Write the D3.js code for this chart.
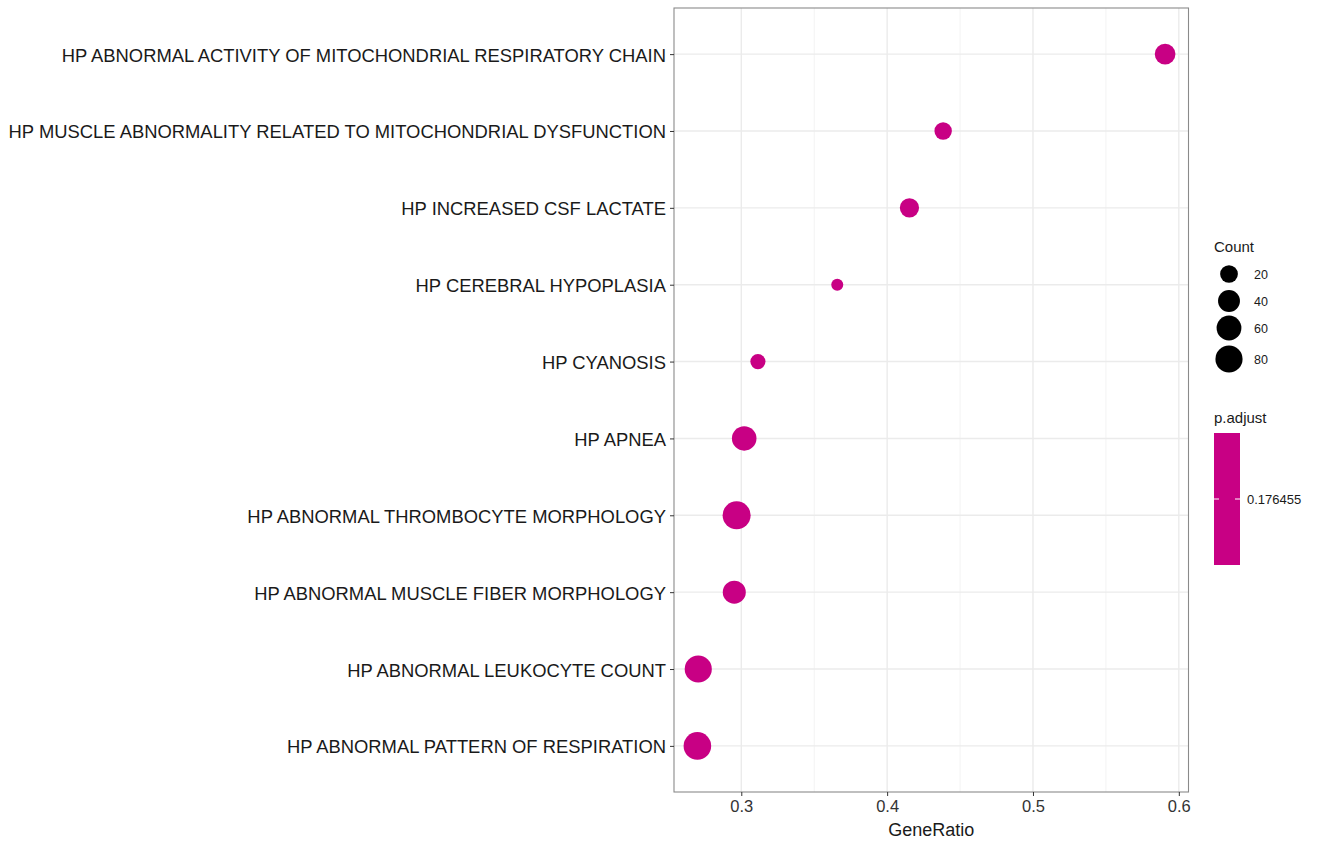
<!DOCTYPE html>
<html>
<head>
<meta charset="utf-8">
<script src="https://cdn.jsdelivr.net/npm/d3@7"></script>
<style>
  html, body { margin: 0; padding: 0; background: #ffffff; }
  svg { display: block; font-family: "Liberation Sans", Arial, Helvetica, sans-serif; }
</style>
</head>
<body>
<svg id="chart" width="1319" height="841"></svg>
<script>
// ---- data ----
const categories = [
  "HP ABNORMAL ACTIVITY OF MITOCHONDRIAL RESPIRATORY CHAIN",
  "HP MUSCLE ABNORMALITY RELATED TO MITOCHONDRIAL DYSFUNCTION",
  "HP INCREASED CSF LACTATE",
  "HP CEREBRAL HYPOPLASIA",
  "HP CYANOSIS",
  "HP APNEA",
  "HP ABNORMAL THROMBOCYTE MORPHOLOGY",
  "HP ABNORMAL MUSCLE FIBER MORPHOLOGY",
  "HP ABNORMAL LEUKOCYTE COUNT",
  "HP ABNORMAL PATTERN OF RESPIRATION"
];
const geneRatio = [0.5906, 0.4384, 0.4153, 0.3658, 0.3114, 0.3020, 0.2968, 0.2952, 0.2705, 0.2699];
const counts    = [33, 19, 26, 10, 13, 58, 88, 47, 80, 84];
const pAdjust   = [0.176455, 0.176455, 0.176455, 0.176455, 0.176455, 0.176455, 0.176455, 0.176455, 0.176455, 0.176455];
const xTicks = [0.3, 0.4, 0.5, 0.6];
const xMinorTicks = [0.25, 0.35, 0.45, 0.55];
const sizeBreaks = [20, 40, 60, 80];
const colorBreaks = [0.176455];

// ---- layout ----
const svg = d3.select("#chart");
const panel = { left: 674, right: 1188.5, top: 8, bottom: 792 };
const pointColor = "#c80084";

// x scale with 5% expansion like ggplot
const xMin = d3.min(geneRatio), xMax = d3.max(geneRatio);
const xPad = (xMax - xMin) * 0.05;
const x = d3.scaleLinear().domain([xMin - xPad, xMax + xPad]).range([panel.left, panel.right]);

const y = d3.scalePoint().domain(categories).range([panel.top, panel.bottom]).padding(0.6);

// size: area-style rescale
const cMin = d3.min(counts), cMax = d3.max(counts);
const rMin = 6, rMax = 14;
const r = c => rMin + (rMax - rMin) * Math.sqrt(Math.max(0, (c - cMin) / (cMax - cMin)));

// panel background
svg.append("rect").attr("x", panel.left).attr("y", panel.top)
  .attr("width", panel.right - panel.left).attr("height", panel.bottom - panel.top)
  .attr("fill", "#ffffff");

// grid
const grid = svg.append("g");
grid.selectAll("line.minor").data(xMinorTicks.filter(t => x(t) > panel.left && x(t) < panel.right)).join("line")
  .attr("x1", d => x(d)).attr("x2", d => x(d)).attr("y1", panel.top).attr("y2", panel.bottom)
  .attr("stroke", "#f3f3f3").attr("stroke-width", 1);
grid.selectAll("line.vmajor").data(xTicks).join("line")
  .attr("x1", d => x(d)).attr("x2", d => x(d)).attr("y1", panel.top).attr("y2", panel.bottom)
  .attr("stroke", "#ebebeb").attr("stroke-width", 1.4);
grid.selectAll("line.hmajor").data(categories).join("line")
  .attr("x1", panel.left).attr("x2", panel.right).attr("y1", d => y(d)).attr("y2", d => y(d))
  .attr("stroke", "#ebebeb").attr("stroke-width", 1.4);

// points
svg.append("g").selectAll("circle").data(categories).join("circle")
  .attr("cx", (d, i) => x(geneRatio[i]))
  .attr("cy", d => y(d))
  .attr("r", (d, i) => r(counts[i]))
  .attr("fill", pointColor);

// border
svg.append("rect").attr("x", panel.left).attr("y", panel.top)
  .attr("width", panel.right - panel.left).attr("height", panel.bottom - panel.top)
  .attr("fill", "none").attr("stroke", "#8a8a8a").attr("stroke-width", 1.1);

// axes
const xAxis = svg.append("g").attr("transform", `translate(0,${panel.bottom})`)
  .call(d3.axisBottom(x).tickValues(xTicks).tickFormat(d3.format(".1f")).tickSize(4).tickPadding(4));
xAxis.select(".domain").remove();
xAxis.selectAll(".tick line").attr("stroke", "#333333").attr("stroke-width", 1);
xAxis.selectAll(".tick text").attr("fill", "#333333").style("font-size", "16.5px")
  .style("font-family", "'Liberation Sans', Arial, sans-serif");

const yAxis = svg.append("g").attr("transform", `translate(${panel.left},0)`)
  .call(d3.axisLeft(y).tickSize(4).tickPadding(4));
yAxis.select(".domain").remove();
yAxis.selectAll(".tick line").attr("stroke", "#333333").attr("stroke-width", 1);
yAxis.selectAll(".tick text").attr("fill", "#1a1a1a").style("font-size", "18.4px")
  .attr("dy", "0.38em")
  .style("font-family", "'Liberation Sans', Arial, sans-serif");

// x title
svg.append("text").attr("x", (panel.left + panel.right) / 2).attr("y", 836)
  .attr("text-anchor", "middle").attr("fill", "#1a1a1a").style("font-size", "18px")
  .text("GeneRatio");

// size legend
const lg = svg.append("g");
lg.append("text").attr("x", 1214).attr("y", 252).style("font-size", "15px").attr("fill", "#1a1a1a").text("Count");
const sizeY = [274, 301, 328, 359];
lg.selectAll("circle").data(sizeBreaks).join("circle")
  .attr("cx", 1229).attr("cy", (d, i) => sizeY[i]).attr("r", d => r(d)).attr("fill", "#000000");
lg.selectAll("text.lab").data(sizeBreaks).join("text").attr("class", "lab")
  .attr("x", 1254).attr("y", (d, i) => sizeY[i] + 4.5).style("font-size", "12.5px").attr("fill", "#1a1a1a")
  .text(d => d);

// colour legend
const cg = svg.append("g");
cg.append("text").attr("x", 1214).attr("y", 423).style("font-size", "15px").attr("fill", "#1a1a1a").text("p.adjust");
const barTop = 433, barBottom = 565, barLeft = 1214, barW = 26;
cg.append("rect").attr("x", barLeft).attr("y", barTop).attr("width", barW).attr("height", barBottom - barTop)
  .attr("fill", pointColor);
const cy = d3.scaleLinear().domain([colorBreaks[0] - 1, colorBreaks[0] + 1]).range([barBottom, barTop]);
colorBreaks.forEach(b => {
  cg.append("line").attr("x1", barLeft).attr("x2", barLeft + 5).attr("y1", cy(b)).attr("y2", cy(b)).attr("stroke", "#ffffff").attr("stroke-width", 1);
  cg.append("line").attr("x1", barLeft + barW - 5).attr("x2", barLeft + barW).attr("y1", cy(b)).attr("y2", cy(b)).attr("stroke", "#ffffff").attr("stroke-width", 1);
  cg.append("text").attr("x", barLeft + barW + 7).attr("y", cy(b) + 4.5).style("font-size", "13px").attr("fill", "#1a1a1a").text(b);
});
</script>
</body>
</html>
